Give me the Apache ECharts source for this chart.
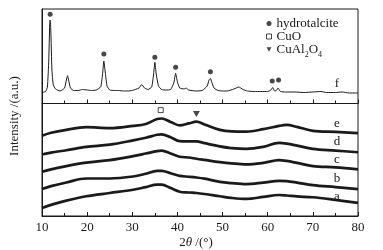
<!DOCTYPE html>
<html>
<head>
<meta charset="utf-8">
<script src="https://cdn.jsdelivr.net/npm/echarts@6/dist/echarts.min.js"></script>
<style>
html,body{margin:0;padding:0;background:#fff;}
#c{width:383px;height:250px;}
</style>
</head>
<body>
<div id="c"></div>
<script>
// ---- Data (2θ in degrees, intensity in a.u.) ----
const xTicks = [10, 20, 30, 40, 50, 60, 70, 80];

// Top panel: sample f
const fX = [10.0,10.8,11.2,11.5,11.7,11.8,11.95,12.2,12.5,13,14,15.0,15.4,15.65,15.9,16.3,17,18,19,20,21,22,23,23.4,23.7,24.0,24.4,25,26,27,28,29,30,31.5,32.1,32.7,33.5,34.3,34.7,35.0,35.3,35.8,36.5,37.5,38.5,39.2,39.6,40.0,40.5,41.5,41.9,42.5,44,45.5,46.6,47.0,47.3,47.6,48.1,49,50,51,52.5,53.6,54.5,55.5,57,58.5,60,60.7,61.1,61.5,61.9,62.3,62.8,64,66,68,70,71.8,73,75,76.5,78,80];
const fY = [110,120,165,435,785,835,735,335,185,145,125,155,235,278,235,155,130,130,140,135,130,135,165,285,425,315,175,135,130,130,125,125,130,155,190,155,140,165,285,412,295,175,140,135,140,205,302,215,155,145,155,135,125,130,175,235,252,215,155,130,125,125,145,165,140,125,120,120,120,135,160,125,130,155,120,115,115,110,115,120,110,110,115,105,105];

// hydrotalcite reflections marked in f
const htX = [11.8, 23.7, 35.0, 39.6, 47.3, 61.0, 62.4];
const htY = [892, 495, 462, 362, 318, 225, 235];

// Bottom panel: samples a–e (stacked)
const bX = [10,12,15.4,19.8,25,30.2,33,35.5,36.5,38.5,40.5,42.5,44.2,46,49.4,52,55.3,59,62.5,64.2,66.5,70,75,80];
const eY = [813,843,873,900,890,913,933,983,988,953,918,938,956,928,873,858,856,880,913,923,903,863,853,840];
const dY = [623,643,666,700,723,766,793,823,828,798,758,756,756,738,706,688,680,700,740,733,713,680,663,646];
const cY = [448,473,506,540,566,606,633,658,663,633,600,593,580,568,546,533,523,538,566,558,538,506,493,473];
const bY = [273,303,340,380,380,400,428,458,458,433,406,398,390,378,346,333,323,338,356,353,338,313,293,273];
const aY = [80,113,156,200,233,266,293,318,318,283,246,238,233,223,200,183,173,193,213,208,198,190,163,133];

const cuoX = [36.3], cuoY = [1073];
const cuAlX = [44.2], cuAlY = [1033];

const sampleNames = ['a','b','c','d','e','f'];

// ---- Chart ----
const zip = (xs, ys) => xs.map((x, i) => [x, ys[i]]);
const FONT = '"Liberation Serif", "Times New Roman", serif';
const INK = '#1a1a1a';
const DOWN_TRI = 'path://M0,0L10,0L5,9Z';

const chart = echarts.init(document.getElementById('c'), null, {renderer: 'canvas'});

const commonX = {
  type: 'value', min: 10, max: 80, interval: 10,
  axisLine: {show: true, lineStyle: {color: INK, width: 1}},
  axisTick: {show: true, inside: true, length: 4, lineStyle: {color: INK}},
  minorTick: {show: true, splitNumber: 2, length: 3, lineStyle: {color: INK}},
  splitLine: {show: false},
};

const bottomLine = (ys) => ({
  type: 'line', xAxisIndex: 1, yAxisIndex: 1,
  data: zip(bX, ys), showSymbol: false, smooth: 0.35,
  lineStyle: {color: INK, width: 2.7}, silent: true
});

const option = {
  animation: false,
  backgroundColor: '#fff',
  grid: [
    {left: 42, right: 25, top: 9, height: 94.5, show: true, borderColor: INK, borderWidth: 1, backgroundColor: 'transparent'},
    {left: 42, right: 25, top: 103.5, height: 114, show: true, borderColor: INK, borderWidth: 1, backgroundColor: 'transparent'}
  ],
  xAxis: [
    Object.assign({}, commonX, {gridIndex: 0, axisLabel: {show: false}}),
    Object.assign({}, commonX, {gridIndex: 1,
      axisLabel: {show: true, margin: 5, color: INK, fontFamily: FONT, fontSize: 13,
        customValues: xTicks},
      name: '{n|2}{i|θ}{n| /(°)}', nameLocation: 'middle', nameGap: 20,
      nameTextStyle: {padding: [0, 8, 0, 0], rich: {
        n: {fontFamily: FONT, fontSize: 13, color: INK},
        i: {fontFamily: FONT, fontSize: 13, fontStyle: 'italic', color: INK}
      }}
    })
  ],
  yAxis: [
    {type: 'value', gridIndex: 0, min: 0, max: 945, show: true,
     axisLine: {show: true, lineStyle: {color: INK}}, axisTick: {show: false}, axisLabel: {show: false}, splitLine: {show: false}},
    {type: 'value', gridIndex: 1, min: 0, max: 1140, show: true,
     axisLine: {show: true, lineStyle: {color: INK}}, axisTick: {show: false}, axisLabel: {show: false}, splitLine: {show: false}}
  ],
  legend: {
    orient: 'vertical', left: 266, top: 17, itemWidth: 5, itemHeight: 5, itemGap: 0,
    padding: 0,
    data: [
      {name: 'hydrotalcite', icon: 'circle'},
      {name: 'CuO', icon: 'rect', itemStyle: {color: '#fff', borderColor: INK, borderWidth: 1}},
      {name: 'CuAl2O4', icon: DOWN_TRI}
    ],
    selectedMode: false,
    formatter: function (n) {
      if (n === 'CuAl2O4') return '{t|CuAl}{s|2}{t|O}{s|4}';
      return '{t|' + n + '}';
    },
    textStyle: {
      fontFamily: FONT, fontSize: 13, color: INK, padding: [0, 0, 0, 0],
      rich: {
        t: {fontFamily: FONT, fontSize: 13, color: INK, lineHeight: 13.7, verticalAlign: 'middle'},
        s: {fontFamily: FONT, fontSize: 8, color: INK, lineHeight: 13.7, verticalAlign: 'bottom', padding: [0,0,-3,0]}
      }
    }
  },
  series: [
    {name: 'f', type: 'line', xAxisIndex: 0, yAxisIndex: 0, data: zip(fX, fY),
     showSymbol: false, smooth: 0.15, lineStyle: {color: INK, width: 1}, silent: true},
    bottomLine(aY), bottomLine(bY), bottomLine(cY), bottomLine(dY), bottomLine(eY),
    {name: 'hydrotalcite', type: 'scatter', xAxisIndex: 0, yAxisIndex: 0, data: zip(htX, htY),
     symbol: 'circle', symbolSize: 5, itemStyle: {color: INK}, silent: true},
    {name: 'CuO', type: 'scatter', xAxisIndex: 1, yAxisIndex: 1, data: zip(cuoX, cuoY),
     symbol: 'rect', symbolSize: 5, itemStyle: {color: '#fff', borderColor: INK, borderWidth: 1}, silent: true},
    {name: 'CuAl2O4', type: 'scatter', xAxisIndex: 1, yAxisIndex: 1, data: zip(cuAlX, cuAlY),
     symbol: DOWN_TRI, symbolSize: [7, 6], itemStyle: {color: INK}, silent: true}
  ],
  graphic: [
    {type: 'text', x: 15, y: 116, rotation: Math.PI / 2,
     style: {text: 'Intensity /(a.u.)', fontFamily: FONT, fontSize: 13, fill: INK, align: 'center', verticalAlign: 'middle'}}
  ].concat([[337, 196.7], [337, 178.3], [337, 160], [337, 141.7], [337, 124], [337, 84]].map((p, i) => ({
    type: 'text', x: p[0], y: p[1],
    style: {text: sampleNames[i], fontFamily: FONT, fontSize: 13, fill: INK, align: 'center', verticalAlign: 'middle'}
  })))
};
chart.setOption(option);
</script>
</body>
</html>
